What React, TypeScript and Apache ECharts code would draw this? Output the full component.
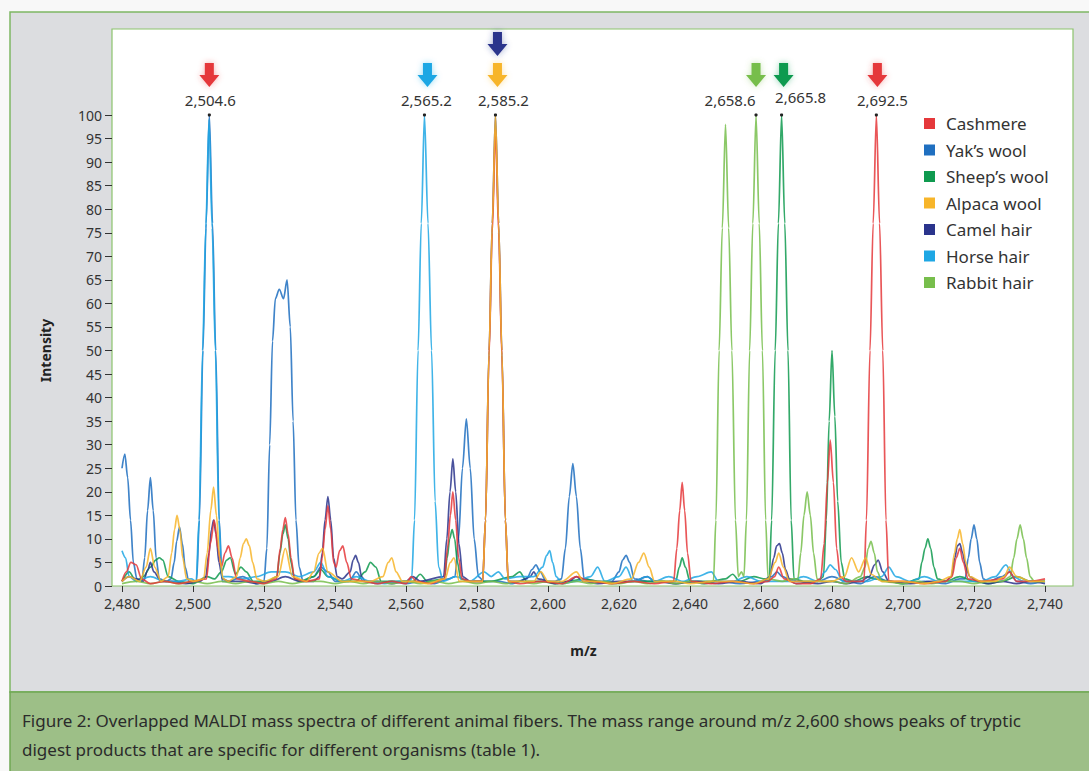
import React, { useEffect, useRef } from "react";
import * as echarts from "echarts";

const FONT = "'Noto Sans', 'Open Sans', sans-serif";

const seriesNames = ["Cashmere", "Yak’s wool", "Sheep’s wool", "Alpaca wool", "Camel hair", "Horse hair", "Rabbit hair"];
const seriesColors = ["#e5383b", "#1f6fc0", "#0f9a4f", "#f7b52a", "#2a348c", "#1ea7e4", "#77be4c"];
const seriesZ = [3, 2, 2, 3, 2, 2, 2];

const cashmere: [number, number][] = [
  [2480, 1], [2481.2, 3], [2482.5, 5], [2484, 4.5], [2485.5, 1.5], [2488, 0.5], [2492, 1], [2496, 0.5], [2500, 1],
  [2503.8, 1.5], [2504.9, 9], [2506, 14], [2507, 8], [2508, 4], [2509, 7], [2510, 8.5], [2511, 6], [2512.3, 1.5],
  [2516, 1], [2520, 0.5], [2523.5, 1.5], [2524.6, 8], [2525.3, 12], [2526, 14.5], [2526.8, 11], [2527.6, 6], [2528.6, 1.5],
  [2532, 1], [2535.6, 1.5], [2536.4, 6], [2537.2, 12], [2538, 17], [2538.8, 12], [2539.6, 5], [2540.3, 4], [2541.3, 7.5],
  [2542.2, 8.5], [2543.3, 5], [2544.6, 1.5], [2548, 1], [2552, 0.5], [2556, 1], [2560, 0.5], [2561.5, 2], [2563, 1],
  [2567, 0.5], [2570.8, 1.5], [2571.7, 8], [2572.5, 15], [2573.2, 20], [2574, 14], [2574.8, 6], [2575.8, 1.5], [2578, 1],
  [2581.6, 1], [2582.4, 14], [2583.4, 49], [2584.3, 75], [2585.2, 97], [2586.1, 75], [2587, 49], [2588, 14], [2588.8, 1],
  [2592, 0.5], [2598, 1], [2604, 0.5], [2608, 2], [2612, 1], [2618, 0.5], [2624, 1], [2630, 0.5], [2635.4, 1], [2636.3, 8],
  [2637.1, 16], [2637.8, 22], [2638.5, 16], [2639.3, 7], [2640.3, 1], [2646, 0.5], [2652, 1], [2658, 0.5], [2662, 1],
  [2663.8, 2], [2665, 4], [2666.5, 1.5], [2670, 0.5], [2674, 0.5], [2676.8, 1.5], [2677.8, 9], [2678.7, 22], [2679.5, 31],
  [2680.4, 22], [2681.3, 8], [2682.3, 2], [2684, 1], [2689, 1], [2689.7, 14], [2690.7, 50], [2691.6, 77], [2692.5, 100],
  [2693.4, 77], [2694.3, 50], [2695.2, 14], [2696, 1], [2700, 1], [2706, 0.5], [2712, 1], [2713.8, 2], [2715, 6], [2716, 8],
  [2717, 5], [2718.3, 1.5], [2722, 1], [2728, 1.5], [2730, 3], [2732, 1], [2736, 1], [2740, 1.5],
];

const yaksWool: [number, number][] = [
  [2480, 25], [2480.8, 28], [2481.6, 23], [2482.4, 14], [2483.2, 5], [2484.2, 1.5], [2485.6, 1], [2486.4, 6], [2487.2, 16],
  [2488, 23], [2488.8, 16], [2489.6, 6], [2490.5, 1.5], [2492.5, 1], [2493.8, 1.5], [2494.7, 5], [2495.4, 9.5], [2496.2, 12.5],
  [2497, 9], [2497.8, 4], [2498.8, 1], [2500.2, 1], [2501, 1], [2501.8, 14], [2502.8, 50], [2503.7, 77], [2504.6, 100],
  [2505.5, 77], [2506.4, 50], [2507.4, 14], [2508.2, 1], [2510, 1], [2514, 2], [2518, 0.5], [2520, 1], [2520.8, 8],
  [2521.6, 30], [2522.4, 52], [2523.2, 61], [2524.3, 63], [2525.5, 61], [2526.5, 65], [2527.4, 55], [2528.2, 35],
  [2529, 14], [2529.9, 4], [2531, 1], [2534, 2], [2536, 4], [2538, 3], [2540, 1], [2544, 1], [2546, 3], [2548, 1],
  [2552, 0.5], [2556, 1], [2560, 0.5], [2564, 1], [2568, 0.5], [2572, 1.5], [2573.8, 2], [2574.8, 10], [2575.9, 25],
  [2577, 35.5], [2578.1, 25], [2579.2, 10], [2580.4, 2], [2582, 1], [2586, 1], [2590, 0.5], [2594, 1.5], [2595.5, 3.5],
  [2596.6, 4.5], [2597.8, 3], [2599.5, 1], [2602, 1], [2603.8, 1.5], [2604.9, 8], [2606, 19], [2607, 26], [2608, 19],
  [2609.1, 8], [2610.2, 1.5], [2614, 1], [2618, 1], [2620, 3], [2621, 5.5], [2622, 6.5], [2623, 5], [2624.3, 1.5],
  [2628, 1], [2632, 1], [2636, 0.5], [2640, 1], [2644, 0.5], [2648, 1], [2654, 0.5], [2660, 1], [2663, 2], [2664.5, 3],
  [2666, 2], [2670, 0.5], [2676, 1], [2680, 2], [2684, 1], [2688, 0.5], [2692, 2], [2696, 1], [2700, 0.5], [2706, 1],
  [2712, 0.5], [2716, 1.5], [2717.5, 1.5], [2718.4, 6], [2719.2, 10], [2720, 13], [2720.8, 10], [2721.6, 5], [2722.6, 1.5],
  [2724, 1], [2728, 2], [2730, 3], [2732, 1], [2736, 0.5], [2740, 1],
];

const sheepsWool: [number, number][] = [
  [2480, 1], [2482, 3], [2484, 1], [2486, 2], [2488, 4], [2489.5, 5.5], [2490.5, 6], [2491.5, 5.5], [2493, 2], [2496, 1],
  [2500, 0.5], [2504, 2], [2506, 1.5], [2508, 3], [2509.5, 5.5], [2510.5, 6], [2512, 2.5], [2513.5, 4], [2515, 3],
  [2517, 1], [2521, 1], [2523.6, 2], [2524.5, 7], [2525.3, 11], [2526, 13], [2526.8, 10], [2527.6, 5], [2528.6, 1.5],
  [2530, 1], [2534, 2], [2536, 3.5], [2538, 2], [2542, 1], [2546, 1], [2548.5, 3], [2550, 5], [2551.5, 4], [2553, 1],
  [2558, 1], [2562, 1], [2564, 2.5], [2566, 1], [2570.8, 1.5], [2571.6, 6], [2572.3, 10], [2573, 12], [2573.7, 10],
  [2574.5, 5], [2575.4, 1.5], [2578, 1], [2584, 1], [2590, 2], [2592, 3], [2594, 1], [2598, 1], [2602, 0.5], [2606, 1],
  [2610, 1.5], [2614, 1], [2618, 0.5], [2624, 1], [2630, 1], [2636, 1], [2637, 4], [2637.8, 6], [2638.7, 4], [2640, 1],
  [2646, 1], [2650, 1.5], [2652, 2.5], [2654, 1], [2658, 2], [2661, 1.5], [2662.3, 1], [2663, 14], [2664, 50], [2664.9, 77],
  [2665.8, 100], [2666.7, 77], [2667.6, 50], [2668.5, 14], [2669.3, 1.5], [2672, 1], [2676, 1], [2677.6, 2], [2678.4, 14],
  [2679.2, 35], [2680, 50], [2680.8, 36], [2681.6, 18], [2682.6, 5], [2683.6, 1.5], [2686, 1], [2690, 2], [2692, 1.5],
  [2696, 1], [2700, 0.5], [2704.5, 1.5], [2705.3, 5], [2706.2, 8], [2707, 10], [2707.8, 8], [2708.7, 4], [2709.7, 1.5],
  [2712, 1], [2716, 2], [2720, 1], [2724, 0.5], [2728, 1], [2732, 2], [2736, 1], [2740, 1],
];

const alpacaWool: [number, number][] = [
  [2480, 1], [2482, 2], [2485, 1], [2486.8, 4], [2488, 8], [2489.2, 4], [2491, 1], [2493, 2], [2494, 7], [2494.8, 12],
  [2495.5, 15], [2496.3, 12], [2497.1, 6], [2498.2, 1.5], [2500, 1], [2503, 1.5], [2504, 7], [2505, 16], [2505.8, 21],
  [2506.6, 15], [2507.5, 6], [2508.5, 1.5], [2510, 1], [2512.3, 2], [2513.3, 6], [2514.2, 9], [2515, 10], [2515.9, 8.5],
  [2516.8, 5], [2518, 1.5], [2520, 1], [2524, 2], [2526, 8], [2528, 2], [2532, 1], [2534, 3], [2535.5, 7], [2536.5, 8],
  [2538, 3], [2542, 1], [2546, 1], [2550, 1], [2553.5, 2], [2555, 5], [2556, 6], [2557.2, 3], [2559, 1], [2562, 1],
  [2566, 0.5], [2571, 1.5], [2572.5, 5], [2573.5, 6], [2575, 1], [2580, 1], [2581.6, 1], [2582.4, 14], [2583.4, 50],
  [2584.3, 77], [2585.2, 100], [2586.1, 77], [2587, 50], [2588, 14], [2588.8, 1], [2592, 1], [2596, 1], [2598, 3],
  [2600, 1], [2604, 1], [2608, 3], [2610, 1], [2614, 1], [2618, 0.5], [2623.5, 1.5], [2625.5, 5], [2627, 7], [2628.5, 4],
  [2630, 1], [2636, 1], [2640, 0.5], [2646, 1], [2652, 1], [2658, 0.5], [2662, 1.5], [2664, 5], [2665, 7], [2666.3, 4],
  [2668, 1], [2672, 1], [2676, 1], [2680, 1], [2683.5, 2], [2685.5, 6], [2687.5, 3], [2689.5, 6], [2691, 2.5], [2694, 1],
  [2700, 1], [2706, 0.5], [2710, 1], [2713.5, 2], [2714.5, 7], [2715.3, 10], [2716, 12], [2716.8, 9], [2717.7, 5],
  [2718.8, 2], [2722, 1], [2726, 1], [2728.5, 2], [2730, 4], [2732, 2], [2736, 1], [2740, 1],
];

const camelHair: [number, number][] = [
  [2480, 1], [2482, 2], [2484, 1.5], [2486, 1], [2487.3, 3.5], [2488, 5], [2489, 3], [2491, 1], [2494, 1], [2498, 0.5],
  [2502, 1], [2503.6, 2], [2504.5, 7], [2505.2, 12], [2505.8, 14], [2506.5, 11], [2507.3, 5], [2508.3, 1.5], [2510, 1],
  [2514, 1], [2518, 0.5], [2522, 1], [2526, 2], [2530, 1], [2534, 1], [2535.6, 2], [2536.4, 7], [2537.2, 14], [2538, 19],
  [2538.8, 14], [2539.6, 6], [2540.6, 2], [2542, 1.5], [2544.3, 3], [2545.1, 5.5], [2545.8, 6.5], [2546.6, 5], [2547.5, 2],
  [2548.5, 1], [2552, 1], [2556, 0.5], [2560, 1], [2562, 2], [2564, 1], [2570.6, 2], [2571.5, 10], [2572.4, 20],
  [2573.2, 27], [2574, 20], [2574.9, 9], [2576, 2], [2578, 1], [2581.6, 1], [2582.4, 14], [2583.4, 50], [2584.3, 77],
  [2585.2, 100], [2586.1, 77], [2587, 50], [2588, 14], [2588.8, 1], [2592, 1], [2595, 2], [2596, 3], [2597.2, 1.5],
  [2602, 0.5], [2606, 1], [2608, 2], [2610, 1], [2614, 0.5], [2620, 1], [2624, 1], [2628, 2], [2630, 1], [2636, 0.5],
  [2642, 1], [2648, 0.5], [2654, 1], [2660, 0.5], [2662.5, 2], [2663.6, 6], [2664.4, 8.5], [2665.2, 9], [2666, 7],
  [2666.9, 3.5], [2668, 1.5], [2670, 1], [2676, 0.5], [2680, 1], [2684, 0.5], [2688, 1], [2690.5, 2], [2692, 4.5],
  [2693, 5.5], [2694.3, 3], [2696, 1], [2702, 0.5], [2708, 1], [2712, 1], [2713.6, 2], [2714.6, 6], [2715.3, 8.5],
  [2716, 9], [2716.8, 7], [2717.7, 4], [2718.8, 2], [2721, 1], [2724, 0.5], [2728, 1], [2732, 0.5], [2736, 1], [2740, 0.5],
];

const horseHair: [number, number][] = [
  [2480, 7.5], [2481, 6], [2482, 2], [2484, 1], [2488, 2], [2492, 1], [2496, 1], [2499.5, 1.5], [2500.9, 1], [2501.7, 14],
  [2502.7, 50], [2503.6, 76], [2504.5, 99], [2505.4, 76], [2506.3, 50], [2507.3, 14], [2508.1, 2], [2510, 2], [2514, 1.5],
  [2518, 2], [2522, 3], [2526, 3], [2530, 2], [2534, 3], [2536, 5], [2538, 2], [2542, 1], [2546, 2], [2550, 1],
  [2554, 0.5], [2558, 1], [2560.8, 1], [2561.6, 1.5], [2562.4, 14], [2563.4, 50], [2564.3, 77], [2565.2, 100],
  [2566.2, 77], [2567.2, 50], [2568.2, 18], [2569.2, 4], [2570.5, 1], [2574, 2], [2578, 1], [2582, 3], [2584, 2],
  [2586, 3], [2588, 1.5], [2592, 2], [2596, 2], [2598.5, 4], [2599.6, 6.5], [2600.5, 7.5], [2601.3, 5], [2602.3, 2],
  [2604, 0.5], [2608, 1], [2612, 2], [2614, 4], [2616, 1], [2620, 2], [2622, 4], [2624, 1], [2628, 2], [2630, 1], [2634, 2],
  [2638, 1], [2642, 2], [2646, 3], [2648, 1], [2652, 1], [2656, 2], [2660, 1], [2664, 1], [2668, 1], [2672, 2], [2676, 1],
  [2678, 3], [2679.5, 4.5], [2681, 3.5], [2683, 1], [2686, 1], [2690, 1], [2694, 2], [2696, 4], [2698, 2], [2702, 1],
  [2706, 2], [2710, 1], [2714, 1], [2718, 1], [2722, 1], [2726, 2], [2729, 4.5], [2731, 2], [2734, 1], [2738, 1], [2740, 1],
];

const rabbitHair: [number, number][] = [
  [2480, 0.5], [2484, 1], [2488, 0.5], [2492, 1], [2496, 0.5], [2500, 1], [2504, 0.5], [2508, 1], [2512, 0.5], [2516, 1],
  [2520, 0.5], [2524, 1], [2528, 0.5], [2532, 1], [2536, 1], [2540, 0.5], [2544, 1], [2548, 0.5], [2552, 1], [2556, 0.5],
  [2560, 1], [2564, 0.5], [2568, 1], [2572, 0.5], [2576, 1], [2580, 0.5], [2584, 1], [2588, 0.5], [2592, 1], [2596, 0.5],
  [2600, 1], [2604, 0.5], [2608, 1], [2612, 0.5], [2616, 1], [2620, 0.5], [2624, 1], [2628, 0.5], [2632, 1], [2636, 0.5],
  [2640, 1], [2644, 0.5], [2646.6, 1], [2647.3, 14], [2648.2, 50], [2649.1, 76], [2650, 98], [2650.9, 76], [2651.8, 50],
  [2652.8, 14], [2653.6, 2], [2654.5, 3], [2655.2, 2], [2655.9, 14], [2656.8, 50], [2657.7, 77], [2658.6, 100],
  [2659.5, 77], [2660.4, 50], [2661.3, 14], [2662, 1.5], [2666, 1], [2669, 1.5], [2670.4, 1.5], [2671.2, 7], [2672.1, 15],
  [2673, 20], [2673.9, 15], [2674.8, 7], [2675.8, 1.5], [2677, 1], [2680, 1], [2684, 0.5], [2688, 2], [2689.3, 4],
  [2690.2, 8], [2691, 9.5], [2691.9, 7], [2692.8, 3], [2694, 1], [2700, 0.5], [2704, 1], [2708, 0.5], [2712, 1], [2716, 1],
  [2720, 0.5], [2724, 1], [2728, 1], [2730.2, 2], [2731.2, 6], [2732.1, 10], [2733, 13], [2733.9, 10], [2734.8, 6],
  [2735.8, 2], [2737, 1], [2740, 1],
];

const seriesData = [cashmere, yaksWool, sheepsWool, alpacaWool, camelHair, horseHair, rabbitHair];

// annotated peaks (m/z) and the series whose arrows mark them (stacked from bottom up)
const annotatedPeaks = [2504.6, 2565.2, 2585.2, 2658.6, 2665.8, 2692.5];
const peakLabels = ["2,504.6", "2,565.2", "2,585.2", "2,658.6", "2,665.8", "2,692.5"];
const arrowOwners = [[0], [5], [3, 4], [6], [2], [0]];

const captionLine1 = "Figure 2: Overlapped MALDI mass spectra of different animal fibers. The mass range around m/z 2,600 shows peaks of tryptic";
const captionLine2 = "digest products that are specific for different organisms (table 1).";

// layout-only offsets for peak labels (px)
const labelDx = [1, 2, 8, -26, 19, 6];
const labelDy = [-15, -15, -15, -15, -18, -15];
const arrowDx = [0, 3, 2, 0, 2, 1];

function arrowPoints(): number[][] {
  return [[-4.5, 0], [4.5, 0], [4.5, 12], [10, 12], [0, 24], [-10, 12], [-4.5, 12]];
}

export default function App() {
  const ref = useRef<HTMLDivElement>(null);

  useEffect(() => {
    document.body.style.margin = "0";
    if (!ref.current) return;
    const chart = echarts.init(ref.current, null, { renderer: "svg" });

    const option: any = {
      animation: false,
      backgroundColor: "#f8f8f8",
      textStyle: { fontFamily: FONT },
      grid: { left: 122, right: 44, top: 115, bottom: 185, containLabel: false },
      legend: {
        data: seriesNames,
        orient: "vertical",
        left: 919,
        top: 110,
        icon: "rect",
        itemWidth: 11,
        itemHeight: 11,
        itemGap: 9.5,
        textStyle: { fontSize: 17, color: "#333", fontFamily: FONT, padding: [0, 0, 0, 6] },
      },
      xAxis: {
        type: "value",
        min: 2480,
        max: 2740,
        interval: 20,
        name: "m/z",
        nameLocation: "middle",
        nameGap: 57,
        nameTextStyle: { fontSize: 14, fontWeight: "bold", color: "#222", fontFamily: FONT },
        axisLine: { show: false },
        axisTick: { show: true, length: 6, lineStyle: { color: "#333", width: 1 } },
        axisLabel: {
          fontSize: 14,
          color: "#333",
          margin: 10,
          fontFamily: FONT,
          formatter: (v: number) => v.toLocaleString("en-US"),
        },
        splitLine: { show: false },
      },
      yAxis: {
        type: "value",
        min: 0,
        max: 100,
        interval: 5,
        offset: 10,
        name: "Intensity",
        nameLocation: "middle",
        nameRotate: 90,
        nameGap: 60,
        nameTextStyle: { fontSize: 14, fontWeight: "bold", color: "#222", fontFamily: FONT },
        axisLine: { show: false },
        axisTick: { show: true, length: 7, lineStyle: { color: "#333", width: 1 } },
        axisLabel: { fontSize: 14, color: "#333", margin: 10, fontFamily: FONT },
        splitLine: { show: false },
      },
      series: seriesData.map((d, i) => ({
        name: seriesNames[i],
        type: "line",
        data: d,
        symbol: "none",
        showSymbol: false,
        smooth: 0.3,
        smoothMonotone: "x",
        clip: false,
        lineStyle: { width: 1.7, color: seriesColors[i], opacity: 0.85 },
        itemStyle: { color: seriesColors[i] },
        z: seriesZ[i],
      })),
    };

    chart.setOption(option);

    const graphics: any[] = [
      { type: "rect", z: -10, silent: true, shape: { x: 10, y: 12, width: 1100, height: 680 }, style: { fill: "#dcdde0", stroke: "#7db663", lineWidth: 1.5 } },
      { type: "rect", z: -9, silent: true, shape: { x: 10, y: 692, width: 1100, height: 100 }, style: { fill: "#9dbf87", stroke: "#6fa853", lineWidth: 1.5 } },
      { type: "rect", z: -8, silent: true, shape: { x: 112, y: 29, width: 961, height: 557 }, style: { fill: "#ffffff", stroke: "#8cc36d", lineWidth: 1.2 } },
      { type: "text", z: 50, silent: true, x: 22, y: 720, style: { text: captionLine1, fontSize: 17, fill: "#2b2b2b", fontFamily: FONT, textVerticalAlign: "middle" } },
      { type: "text", z: 50, silent: true, x: 22, y: 749, style: { text: captionLine2, fontSize: 17, fill: "#2b2b2b", fontFamily: FONT, textVerticalAlign: "middle" } },
    ];

    annotatedPeaks.forEach((mz, i) => {
      const p = chart.convertToPixel({ gridIndex: 0 }, [mz, 100]) as number[];
      const px = p[0];
      const py = p[1];
      graphics.push({
        type: "text",
        z: 60,
        silent: true,
        x: px + labelDx[i],
        y: py + labelDy[i],
        style: { text: peakLabels[i], fontSize: 15, fill: "#333", fontFamily: FONT, textAlign: "center", textVerticalAlign: "middle" },
      });
      graphics.push({ type: "circle", z: 61, silent: true, shape: { cx: px, cy: py, r: 1.6 }, style: { fill: "#222" } });
      arrowOwners[i].forEach((s, k) => {
        graphics.push({
          type: "polygon",
          z: 62,
          silent: true,
          x: px + arrowDx[i],
          y: py - 52 - k * 31,
          shape: { points: arrowPoints() },
          style: { fill: seriesColors[s], shadowBlur: 6, shadowColor: seriesColors[s] + "66" },
        });
      });
    });

    chart.setOption({ graphic: graphics });

    return () => chart.dispose();
  }, []);

  return <div ref={ref} style={{ width: 1089, height: 771 }} />;
}
